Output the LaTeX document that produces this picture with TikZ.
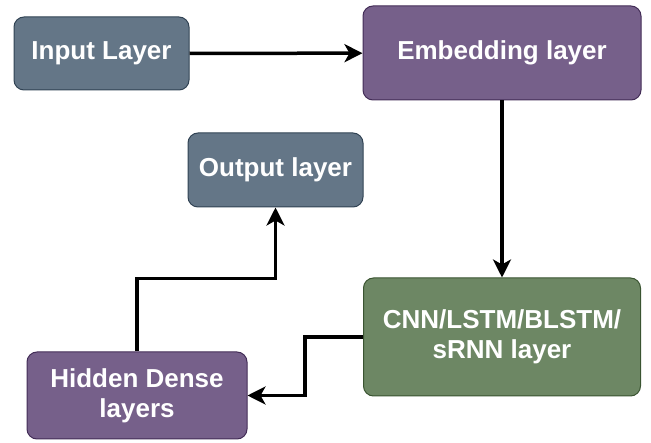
\documentclass[tikz,border=0pt]{standalone}
\usepackage{fontspec}
\setmainfont{Liberation Sans}
\usetikzlibrary{arrows.meta}
\definecolor{slatefill}{HTML}{647687}
\definecolor{slateline}{HTML}{314354}
\definecolor{plumfill}{HTML}{76608A}
\definecolor{plumline}{HTML}{432D57}
\definecolor{mossfill}{HTML}{6D8764}
\definecolor{mossline}{HTML}{3A5431}
\tikzstyle{layer} = [rectangle, rounded corners=10pt, line width=1pt, text=white, align=center, inner sep=0pt, font=\fontsize{26}{30}\selectfont\bfseries]
\tikzstyle{slate} = [layer, fill=slatefill, draw=slateline]
\tikzstyle{plum} = [layer, fill=plumfill, draw=plumline]
\tikzstyle{moss} = [layer, fill=mossfill, draw=mossline]
\tikzstyle{flow} = [line width=3.5pt, -{Stealth[length=18pt, width=18pt, inset=5pt]}]

\begin{document}
\begin{tikzpicture}[x=1pt, y=-1pt]
					\useasboundingbox (0,0) rectangle (651,443);
					\node [slate, minimum width=175pt, minimum height=73pt] (input) at (101.5,53.5) {Input Layer};
					\node [plum, minimum width=278pt, minimum height=94pt] (embed) at (502,53) {Embedding layer};
					\node [slate, minimum width=175pt, minimum height=74pt] (output) at (275.5,170) {Output layer};
					\node [moss, minimum width=277pt, minimum height=118pt] (cnn) at (502,337) {CNN/LSTM/BLSTM/\\sRNN layer};
					\node [plum, minimum width=220pt, minimum height=87pt] (hidden) at (137,395.5) {Hidden Dense\\layers};
					\draw[flow] (input) -- (embed);
					\draw[flow] (embed) -- (cnn);
					\draw[flow] (cnn.west) -- ++(-58,0) |- (hidden.east);
					\draw[flow] (hidden.north) -- ++(0,-73) -| (output.south);
				\end{tikzpicture}
\end{document}
